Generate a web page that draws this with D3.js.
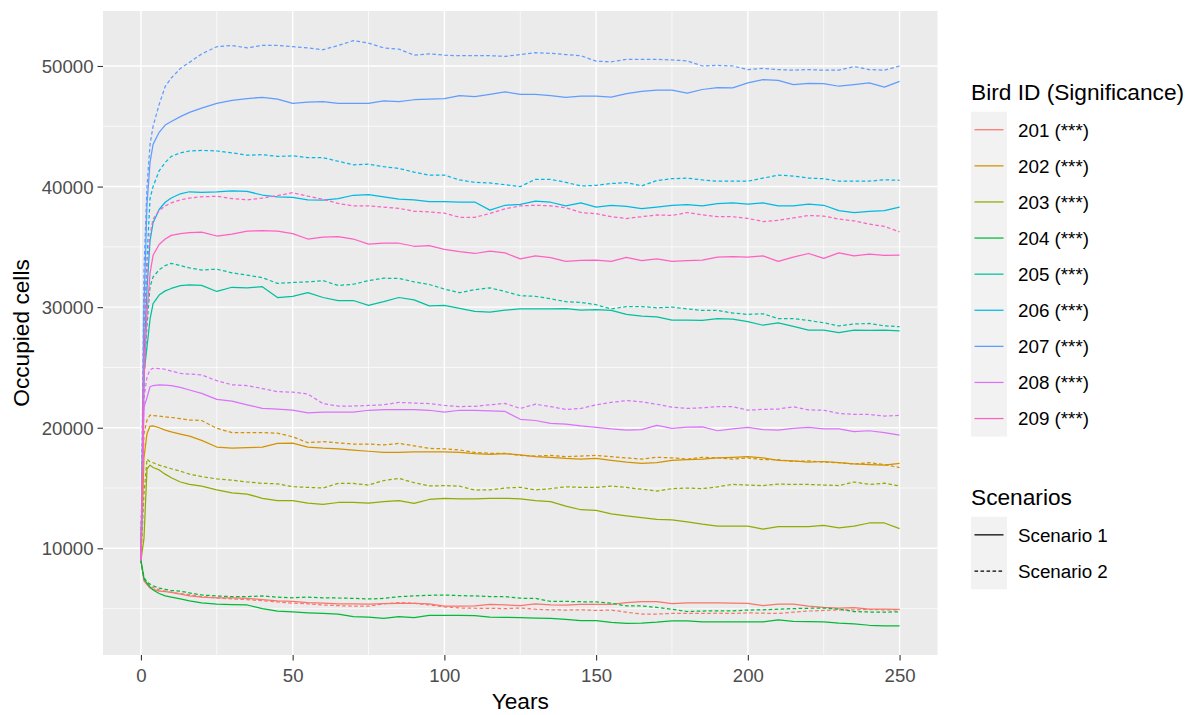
<!DOCTYPE html>
<html>
<head>
<meta charset="utf-8">
<script src="https://cdn.jsdelivr.net/npm/d3@7"></script>
<style>
  html, body { margin: 0; padding: 0; background: #ffffff; }
  svg text { font-family: "Liberation Sans", Arial, sans-serif; }
</style>
</head>
<body>
<svg id="chart" width="1195" height="715"></svg>
<script>
// Simulation years shared by every series
const years = [0,1,2,3,4,6,8,10,13,16,20,25,30,35,40,45,50,55,60,65,70,75,80,85,90,95,100,105,110,115,120,125,130,135,140,145,150,155,160,165,170,175,180,185,190,195,200,205,210,215,220,225,230,235,240,245,250];

const birdIds = ["201","202","203","204","205","206","207","208","209"];
const significance = ["***","***","***","***","***","***","***","***","***"];
const scenarios = ["Scenario 1","Scenario 2"];
const birdColors = ["#F8766D","#D39200","#93AA00","#00BA38","#00C19F","#00B9E3","#619CFF","#DB72FB","#FF61C3"];

const xTicks = [0,50,100,150,200,250];
const yTicks = [10000,20000,30000,40000,50000];

// Occupied cells per bird, Scenario 1
const s1_201 = [9000,7300,7000,6700,6600,6450,6400,6350,6200,6050,5950,5900,5900,5850,5750,5650,5600,5500,5450,5400,5400,5380,5420,5440,5440,5400,5200,5200,5220,5350,5300,5250,5400,5300,5280,5350,5350,5350,5500,5580,5580,5420,5480,5480,5480,5460,5440,5250,5380,5380,5200,5110,5050,5080,4960,4950,4940];
const s1_202 = [9000,17500,19500,20140,20150,20000,19800,19650,19470,19300,18950,18400,18300,18350,18400,18700,18720,18400,18300,18250,18150,18050,17950,17950,18000,18000,18000,17950,17850,17800,17850,17750,17600,17550,17450,17400,17450,17300,17150,17050,17100,17300,17350,17400,17500,17550,17600,17500,17300,17250,17150,17200,17100,17000,16950,16900,17050];
const s1_203 = [9000,10800,16600,16900,16700,16500,16150,15850,15500,15300,15150,14850,14600,14500,14150,13950,13950,13750,13650,13800,13800,13750,13870,13950,13730,14050,14150,14100,14100,14150,14150,14100,13950,13870,13500,13200,13150,12850,12700,12550,12400,12350,12200,12000,11850,11850,11850,11600,11800,11800,11800,11900,11700,11850,12100,12100,11630];
const s1_204 = [9000,7500,7100,6800,6550,6250,6050,5950,5800,5650,5480,5380,5330,5300,5000,4800,4720,4650,4600,4550,4330,4300,4200,4330,4250,4430,4430,4430,4420,4300,4280,4250,4220,4200,4100,4000,4000,3850,3780,3800,3870,3980,3980,3900,3900,3900,3910,3910,4060,3950,3920,3900,3800,3730,3620,3560,3560];
const s1_205 = [9000,24500,26700,29000,30300,31000,31350,31550,31780,31850,31800,31300,31650,31600,31700,30800,30900,31200,30800,30550,30550,30150,30450,30800,30600,30100,30150,29900,29650,29580,29750,29850,29850,29850,29880,29750,29800,29730,29400,29250,29200,28930,28930,28900,29050,29000,28800,28500,28700,28400,28100,28100,27880,28100,28080,28100,28040];
const s1_206 = [9000,26000,31500,35500,37000,38100,38700,39050,39400,39570,39520,39570,39650,39600,39300,39150,39100,38900,38870,39000,39280,39330,39150,38950,38900,38750,38750,38720,38720,38050,38450,38530,38800,38700,38400,38650,38300,38450,38350,38170,38300,38450,38500,38400,38580,38640,38550,38650,38400,38400,38550,38450,38000,37830,37950,38000,38300];
const s1_207 = [9000,30000,38500,42000,43500,44500,45100,45400,45800,46150,46500,46900,47150,47300,47400,47250,46900,47000,47050,46900,46900,46900,47100,47050,47200,47250,47300,47550,47450,47650,47850,47650,47650,47550,47400,47500,47500,47420,47700,47900,48000,48000,47750,48050,48200,48180,48600,48870,48800,48460,48550,48540,48320,48450,48600,48250,48730];
const s1_208 = [9000,21700,22500,23400,23500,23550,23540,23500,23350,23130,22850,22350,22200,21900,21600,21550,21470,21240,21300,21300,21300,21450,21500,21500,21500,21450,21300,21450,21430,21400,21350,20700,20600,20360,20300,20150,20030,19900,19810,19850,20200,19950,20050,20080,19750,19900,20030,19850,19800,19950,20030,19900,19900,19670,19750,19600,19390];
const s1_209 = [9000,24000,29500,32800,34300,35200,35650,35950,36100,36180,36230,35900,36050,36300,36350,36300,36100,35650,35800,35850,35650,35230,35300,35300,35050,35100,34800,34600,34450,34650,34500,34000,34250,34100,33800,33880,33900,33800,34130,33850,34000,33800,33850,33900,34150,34200,34150,34250,33800,34150,34450,34050,34500,34250,34400,34300,34320];

// Occupied cells per bird, Scenario 2
const s2_201 = [9000,7400,7150,6900,6750,6550,6450,6350,6250,6150,6000,5880,5800,5750,5650,5550,5450,5400,5300,5250,5200,5200,5400,5500,5450,5300,5150,5050,5030,5030,5000,5050,4950,4900,4880,4900,4850,4880,4700,4550,4550,4600,4600,4600,4620,4600,4650,4620,4600,4700,4800,4850,4900,4900,4920,4900,4900];
const s2_202 = [9000,19500,20640,21050,21000,20970,20900,20850,20750,20640,20600,19950,19600,19600,19600,19550,19250,18760,18850,18750,18650,18650,18570,18700,18500,18290,18250,18150,17950,17880,17880,17700,17650,17700,17600,17650,17700,17600,17500,17400,17550,17500,17400,17550,17500,17400,17500,17350,17350,17200,17250,17150,17100,17000,17100,16950,16700];
const s2_203 = [9000,14500,17400,17180,17100,16900,16750,16600,16400,16150,15950,15750,15650,15500,15390,15350,15110,15050,15000,15390,15380,15250,15620,15800,15440,15170,15200,15150,14830,14850,15000,15050,14850,14950,15100,15050,15050,15150,15050,14900,14750,14950,15000,14950,15100,15300,15250,15200,15330,15300,15300,15250,15200,15500,15300,15400,15170];
const s2_204 = [9000,7600,7200,7040,6900,6700,6600,6500,6450,6300,6130,6050,5990,6000,6050,5950,5900,5950,5900,5880,5850,5800,5850,5990,6050,6100,6130,6080,6050,6000,6000,5860,5850,5600,5600,5570,5550,5450,5220,5220,5100,4950,4760,4800,4810,4810,4880,4900,4950,5000,5030,5050,4950,4750,4720,4700,4740];
const s2_205 = [9000,24000,28500,31700,32500,33100,33450,33630,33450,33250,33080,33150,32850,32650,32450,31970,32050,32100,32200,31800,31900,32200,32400,32380,32100,31880,31500,31200,31450,31600,31300,30950,30900,30700,30450,30400,30200,29850,30050,30050,29950,30000,29850,29730,29730,29510,29400,29450,29050,29050,28900,28700,28450,28600,28650,28450,28380];
const s2_206 = [9000,28000,34000,39000,40000,41300,42000,42500,42800,42950,43000,42950,42800,42600,42650,42500,42550,42400,42400,42100,41800,41860,41650,41500,41200,40950,40950,40550,40350,40300,40150,40000,40600,40600,40350,40050,40100,40250,40330,40050,40500,40650,40700,40550,40450,40450,40450,40700,40950,40870,40700,40650,40450,40450,40450,40560,40520];
const s2_207 = [9000,33000,40000,43500,45000,46800,48300,49000,49800,50300,51000,51600,51700,51500,51700,51700,51600,51500,51350,51700,52100,51900,51500,51400,50900,51000,50900,50850,50850,50850,50800,50950,51100,51050,50950,50850,50400,50350,50550,50550,50550,50500,50420,50000,50050,50000,49700,49800,49700,49650,49700,49650,49650,49950,49700,49650,50000];
const s2_208 = [9000,22500,24200,24800,24930,24900,24850,24700,24510,24450,24380,23900,23560,23500,23250,22990,22950,22800,22000,21800,21800,21850,21900,22100,22050,22000,21850,21750,21780,21900,22020,21600,21950,21750,21520,21600,21900,22100,22250,22150,21950,21700,21600,21650,21750,21750,21460,21520,21550,21740,21480,21450,21190,21100,21100,20970,21020];
const s2_209 = [9000,27000,33000,36000,37300,38000,38400,38650,38900,39050,39150,39200,39000,38900,39050,39250,39490,39200,38950,38600,38400,38400,38300,38200,37950,37900,37800,37450,37450,37770,38150,38400,38450,38400,38250,37850,37750,37500,37350,37500,37650,37600,37850,37650,37500,37500,37360,37100,37200,37400,37600,37550,37300,37150,36880,36700,36250];

const scenario1 = [s1_201,s1_202,s1_203,s1_204,s1_205,s1_206,s1_207,s1_208,s1_209];
const scenario2 = [s2_201,s2_202,s2_203,s2_204,s2_205,s2_206,s2_207,s2_208,s2_209];

// Series list: one line per bird and scenario
const series = [];
birdIds.forEach((id, i) => {
  series.push({ bird: id, scenario: scenarios[0], values: scenario1[i] });
  series.push({ bird: id, scenario: scenarios[1], values: scenario2[i] });
});

const svg = d3.select("#chart");
const font = '"Liberation Sans", Arial, sans-serif';

const panel = { left: 103, right: 937.5, top: 11, bottom: 655 };

const x = d3.scaleLinear().domain([-12.5, 262.5]).range([panel.left, panel.right]);
const y = d3.scaleLinear().domain([1153, 54560]).range([panel.bottom, panel.top]);

const color = d3.scaleOrdinal().domain(birdIds).range(birdColors);
const dash = d3.scaleOrdinal().domain(scenarios).range([null, "3.6,2.4"]);

// Panel background
svg.append("rect")
  .attr("x", panel.left).attr("y", panel.top)
  .attr("width", panel.right - panel.left).attr("height", panel.bottom - panel.top)
  .attr("fill", "#EBEBEB");

// Grid lines
const grid = svg.append("g");
const xMinor = [25,75,125,175,225];
const yMinor = [5000,15000,25000,35000,45000];
grid.selectAll(".xminor").data(xMinor).join("line")
  .attr("x1", d => x(d)).attr("x2", d => x(d))
  .attr("y1", panel.top).attr("y2", panel.bottom)
  .attr("stroke", "#ffffff").attr("stroke-width", 0.7);
grid.selectAll(".yminor").data(yMinor).join("line")
  .attr("y1", d => y(d)).attr("y2", d => y(d))
  .attr("x1", panel.left).attr("x2", panel.right)
  .attr("stroke", "#ffffff").attr("stroke-width", 0.7);
grid.selectAll(".xmajor").data(xTicks).join("line")
  .attr("x1", d => x(d)).attr("x2", d => x(d))
  .attr("y1", panel.top).attr("y2", panel.bottom)
  .attr("stroke", "#ffffff").attr("stroke-width", 1.4);
grid.selectAll(".ymajor").data(yTicks).join("line")
  .attr("y1", d => y(d)).attr("y2", d => y(d))
  .attr("x1", panel.left).attr("x2", panel.right)
  .attr("stroke", "#ffffff").attr("stroke-width", 1.4);

// Lines
const line = d3.line()
  .x((d, i) => x(years[i]))
  .y(d => y(d));

svg.append("g")
  .selectAll("path")
  .data(series)
  .join("path")
  .attr("d", d => line(d.values))
  .attr("fill", "none")
  .attr("stroke", d => color(d.bird))
  .attr("stroke-width", 1.25)
  .attr("stroke-linejoin", "round")
  .attr("stroke-dasharray", d => dash(d.scenario));

// Axes
const xAxis = svg.append("g")
  .attr("transform", `translate(0,${panel.bottom})`)
  .call(d3.axisBottom(x).tickValues(xTicks).tickSize(5.5).tickPadding(4).tickFormat(d3.format("d")));
const yAxis = svg.append("g")
  .attr("transform", `translate(${panel.left},0)`)
  .call(d3.axisLeft(y).tickValues(yTicks).tickSize(5.5).tickPadding(4).tickFormat(d3.format("d")));

[xAxis, yAxis].forEach(g => {
  g.select(".domain").remove();
  g.selectAll(".tick line").attr("stroke", "#333333").attr("stroke-width", 1.1);
  g.selectAll(".tick text")
    .attr("fill", "#4D4D4D")
    .style("font-family", font)
    .style("font-size", "18.6px");
});
xAxis.selectAll(".tick text").attr("dy", "0.95em");
yAxis.selectAll(".tick text").attr("dy", "0.35em");

// Axis titles
svg.append("text")
  .attr("x", (panel.left + panel.right) / 2)
  .attr("y", 709)
  .attr("text-anchor", "middle")
  .style("font-family", font).style("font-size", "22.7px")
  .attr("fill", "#000000")
  .text("Years");

svg.append("text")
  .attr("transform", `translate(29,${(panel.top + panel.bottom) / 2}) rotate(-90)`)
  .attr("text-anchor", "middle")
  .style("font-family", font).style("font-size", "22.7px")
  .attr("fill", "#000000")
  .text("Occupied cells");

// Colour legend
const legX = 971, keyW = 36, keyH = 36.1;
const leg1 = svg.append("g");
leg1.append("text")
  .attr("x", legX).attr("y", 99.5)
  .style("font-family", font).style("font-size", "22.7px")
  .attr("fill", "#000000")
  .text("Bird ID (Significance)");
const leg1Top = 111.7;
leg1.append("rect")
  .attr("x", legX).attr("y", leg1Top)
  .attr("width", keyW).attr("height", keyH * birdIds.length)
  .attr("fill", "#F2F2F2");
const keys1 = leg1.selectAll(".key").data(birdIds).join("g")
  .attr("transform", (d, i) => `translate(${legX},${leg1Top + keyH * i + keyH / 2})`);
keys1.append("line")
  .attr("x1", 3.5).attr("x2", keyW - 3.5)
  .attr("stroke", d => color(d)).attr("stroke-width", 1.25);
keys1.append("text")
  .attr("x", 47).attr("dy", "0.36em")
  .style("font-family", font).style("font-size", "18.8px")
  .attr("fill", "#000000")
  .text((d, i) => `${d} (${significance[i]})`);

// Linetype legend
const leg2 = svg.append("g");
leg2.append("text")
  .attr("x", legX).attr("y", 504.5)
  .style("font-family", font).style("font-size", "22.7px")
  .attr("fill", "#000000")
  .text("Scenarios");
const leg2Top = 516.7;
leg2.append("rect")
  .attr("x", legX).attr("y", leg2Top)
  .attr("width", keyW).attr("height", 36.3 * scenarios.length)
  .attr("fill", "#F2F2F2");
const keys2 = leg2.selectAll(".key").data(scenarios).join("g")
  .attr("transform", (d, i) => `translate(${legX},${leg2Top + 36.3 * i + 36.3 / 2})`);
keys2.append("line")
  .attr("x1", 3.5).attr("x2", keyW - 3.5)
  .attr("stroke", "#000000").attr("stroke-width", 1.25)
  .attr("stroke-dasharray", d => dash(d));
keys2.append("text")
  .attr("x", 47).attr("dy", "0.36em")
  .style("font-family", font).style("font-size", "18.8px")
  .attr("fill", "#000000")
  .text(d => d);
</script>
</body>
</html>
